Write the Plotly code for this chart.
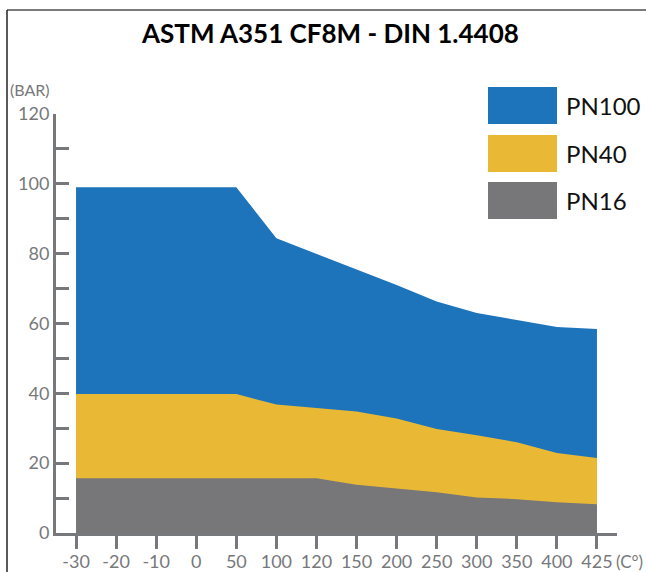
import plotly.graph_objects as go

# ---- data ----
temps = ["-30", "-20", "-10", "0", "50", "100", "120", "150", "200", "250", "300", "350", "400", "425"]
pn100 = [99, 99, 99, 99, 99, 84.4, 80, 75.5, 71, 66.3, 63, 61, 59, 58.4]
pn40 = [39.8, 39.8, 39.8, 39.8, 39.8, 36.8, 35.7, 34.8, 32.8, 29.8, 28, 26, 22.9, 21.5]
pn16 = [15.7, 15.7, 15.7, 15.7, 15.7, 15.7, 15.7, 13.8, 12.7, 11.7, 10.2, 9.7, 8.8, 8.2]
series_names = ["PN100", "PN40", "PN16"]
series_colors = ["#1D74BB", "#E9B936", "#77777A"]
y_tick_vals = list(range(0, 121, 10))
y_tick_text = [str(v) if v % 20 == 0 else "" for v in y_tick_vals]

W, H = 646, 572
L, R, T, B = 56, 29, 114, 39
PW, PH = W - L - R, H - T - B
AXC = "#77787B"
FONT = "Lato"


def px_x(p):
    return (p - L) / PW


def px_y(p):
    return (H - B - p) / PH


fig = go.Figure()
for name, vals, col in zip(series_names, [pn100, pn40, pn16], series_colors):
    fig.add_trace(go.Scatter(
        x=temps, y=vals, name=name, mode="lines", fill="tozeroy",
        line=dict(width=0, color=col), fillcolor=col, showlegend=False,
        hoverinfo="x+y+name",
    ))

shapes = []
annotations = []
# custom legend
box_tops = [87, 135, 182]
for name, col, top in zip(series_names, series_colors, box_tops):
    shapes.append(dict(type="rect", xref="paper", yref="paper",
                       x0=px_x(488), x1=px_x(557), y0=px_y(top + 37), y1=px_y(top),
                       fillcolor=col, line=dict(width=0), layer="above"))
    annotations.append(dict(xref="paper", yref="paper", x=px_x(564), y=px_y(top + 18.5),
                            text=name, showarrow=False, xanchor="left", yanchor="middle",
                            font=dict(family=FONT, size=24, color="#111111")))
# frame lines
shapes.append(dict(type="line", xref="paper", yref="paper", x0=px_x(7), x1=px_x(W + 2),
                   y0=px_y(10), y1=px_y(10), line=dict(color="#7A7A7A", width=2)))
shapes.append(dict(type="line", xref="paper", yref="paper", x0=px_x(7), x1=px_x(7),
                   y0=px_y(10), y1=px_y(H + 2), line=dict(color="#222222", width=1.5)))

annotations.append(dict(xref="paper", yref="paper", x=px_x(8), y=px_y(89), text="(BAR)",
                        showarrow=False, xanchor="left", yanchor="middle",
                        font=dict(family=FONT, size=16, color=AXC)))
annotations.append(dict(xref="paper", yref="paper", x=px_x(614), y=px_y(561), text="(C°)",
                        showarrow=False, xanchor="left", yanchor="middle",
                        font=dict(family=FONT, size=17, color=AXC)))
annotations.append(dict(xref="paper", yref="paper", x=px_x(330), y=px_y(33),
                        text="<b>ASTM A351 CF8M - DIN 1.4408</b>",
                        showarrow=False, xanchor="center", yanchor="middle",
                        font=dict(family=FONT, size=26, color="#000000")))

fig.update_layout(
    width=W, height=H, autosize=False,
    margin=dict(l=L, r=R, t=T, b=B, pad=0, autoexpand=False),
    paper_bgcolor="white", plot_bgcolor="white",
    shapes=shapes, annotations=annotations,
    xaxis=dict(type="category", range=[-0.5, len(temps) - 0.5], automargin=False,
               showgrid=False, zeroline=False, showline=True, linecolor=AXC, linewidth=3,
               ticks="outside", ticklen=13, tickwidth=3, tickcolor=AXC,
               ticklabelstandoff=-3,
               tickfont=dict(family=FONT, size=18, color=AXC)),
    yaxis=dict(range=[0, 120], tickvals=y_tick_vals, ticktext=y_tick_text, automargin=False,
               showgrid=False, zeroline=False, showline=True, linecolor=AXC, linewidth=3,
               ticks="inside", ticklen=13, tickwidth=3, tickcolor=AXC,
               tickfont=dict(family=FONT, size=18, color=AXC)),
)
fig.write_html(
    "out.html",
    config={"responsive": False, "displayModeBar": False},
    post_script="document.body.style.margin='0';document.body.style.overflow='hidden';",
)
